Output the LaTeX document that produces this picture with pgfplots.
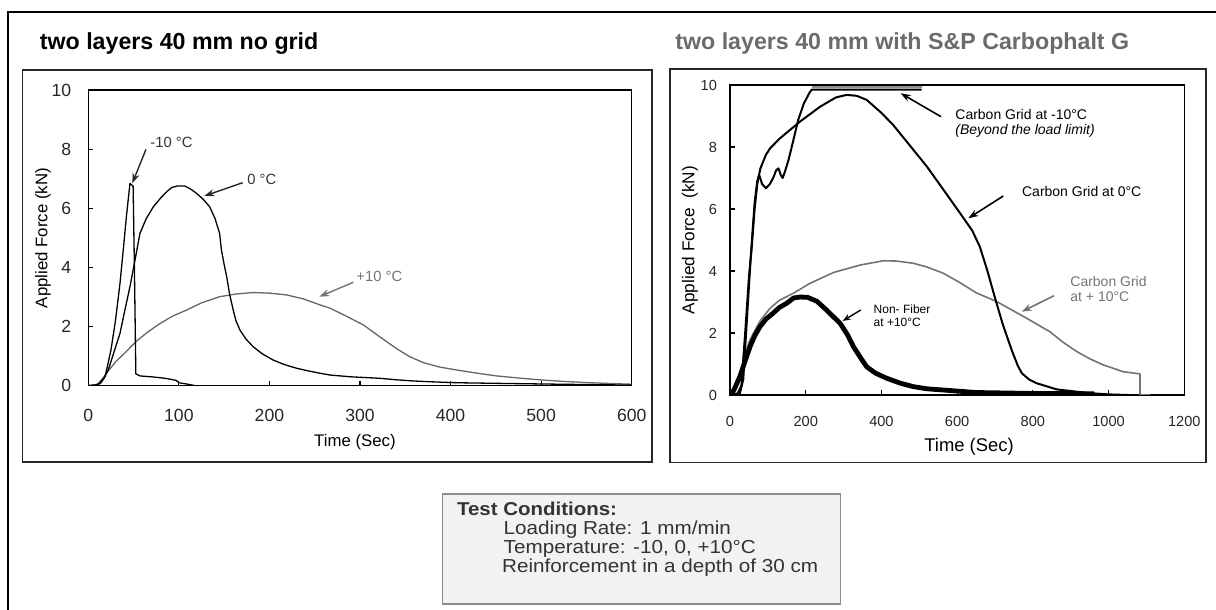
\documentclass[border=0pt]{standalone}
\usepackage{fontspec}
\setmainfont{Liberation Sans}
\newfontfamily\boxfont[FakeStretch=1.1]{Liberation Sans}
\usepackage{pgfplots}
\pgfplotsset{compat=1.18}
\usetikzlibrary{arrows.meta}
\begin{document}
\begin{tikzpicture}
% ---------------- left axis ----------------
\begin{axis}[scale only axis, width=271.7pt, height=147.85pt,
  at={(44.15pt,112.15pt)}, anchor=south west,
  xmin=0, xmax=600, ymin=0, ymax=10,
  xtick={0,100,...,600}, ytick={0,2,...,10},
  tick align=inside, xtick pos=bottom, ytick pos=left,
  major tick length=2.5pt,
  axis line style={line width=0.65pt},
  tick style={line width=0.6pt, black},
  ticklabel style={font=\fontsize{8.8}{10}\selectfont, text=black!85},
  xticklabel style={yshift=-8pt}, yticklabel style={xshift=-5pt},
  /pgf/number format/assume math mode=true, /pgf/number format/1000 sep={}]
\addplot[black!60, line width=0.65pt, line join=round] coordinates {
(0,0)(10,0.05)(16,0.25)(22,0.5)(30,0.8)(40,1.1)(53,1.5)(65,1.8)(79,2.1)(93,2.35)(108.6,2.56)(125,2.8)(145,3.01)(163,3.1)(182,3.15)(200,3.13)(219,3.07)(238,2.93)(256,2.73)(267,2.62)(285,2.35)(304,2.05)(322,1.65)(340,1.26)(355,0.98)(370,0.78)(388,0.63)(407,0.53)(430,0.42)(451,0.33)(475,0.26)(502,0.19)(528,0.14)(554,0.1)(580,0.07)(600,0.05)};
\addplot[black, line width=0.65pt, line join=round] coordinates {
(0,0)(8,0.02)(12.9,0.08)(18,0.3)(22,0.53)(28,1.1)(35,1.77)(40,2.5)(46,3.35)(51.6,4.25)(57,5.15)(64,5.65)(71.8,6.05)(80,6.35)(86.6,6.56)(92,6.7)(97.6,6.75)(106.8,6.75)(113,6.65)(119.7,6.5)(127,6.3)(134,6.05)(140,5.65)(145,5.15)(147,4.59)(150,4.1)(152.8,3.69)(156,3.1)(160,2.56)(163,2.2)(167.5,1.88)(174,1.58)(182,1.32)(192,1.08)(204,0.87)(216,0.72)(230,0.59)(243,0.5)(256,0.42)(267,0.36)(290,0.3)(322,0.25)(340,0.2)(359,0.16)(380,0.13)(407,0.1)(450,0.08)(520,0.05)(600,0.02)};
\addplot[black, line width=0.65pt, line join=round] coordinates {
(0,0)(10,0.02)(14,0.1)(18.5,0.3)(25,1.2)(30,2.2)(35,3.46)(38.6,4.59)(42,5.7)(46,6.84)(49.5,6.75)(51,3.8)(52.5,0.4)(57,0.33)(70,0.3)(85,0.25)(97,0.18)(100,0.1)(110,0.05)(118,0)(125,0)};
\end{axis}

% ---------------- right axis ----------------
\begin{axis}[scale only axis, width=227.15pt, height=155pt,
  at={(365pt,107.5pt)}, anchor=south west,
  xmin=0, xmax=1200, ymin=0, ymax=10,
  xtick={0,200,...,1200}, ytick={0,2,...,10},
  tick align=inside, xtick pos=bottom, ytick pos=left,
  major tick length=2.5pt,
  axis line style={line width=0.65pt},
  tick style={line width=0.6pt, black},
  ticklabel style={font=\fontsize{7.3}{9}\selectfont, text=black!85},
  xticklabel style={yshift=-7pt}, yticklabel style={xshift=-3pt},
  /pgf/number format/assume math mode=true, /pgf/number format/1000 sep={}]
\addplot[black!55, line width=0.8pt, line join=round] coordinates {
(0,0)(10,0.1)(20,0.4)(30,0.8)(40,1.3)(50,1.7)(62,2.0)(80,2.4)(106,2.8)(130,3.05)(167,3.28)(211,3.6)(273,3.95)(343,4.19)(405,4.33)(440,4.32)(484,4.25)(520,4.13)(563,3.93)(608,3.62)(650,3.3)(705,3.01)(780,2.5)(845,2.04)(880,1.7)(916,1.4)(950,1.17)(986,0.97)(1039,0.75)(1083,0.68)(1083,0)(1110,0)};
\addplot[black, line width=2.4pt, line join=round] coordinates {
(0,0)(10,0.15)(26,0.59)(40,1.1)(53,1.56)(65,1.9)(79,2.2)(95,2.45)(114,2.64)(130,2.82)(150,2.96)(168,3.13)(185,3.16)(205,3.15)(230,3.02)(255,2.74)(275,2.5)(291,2.31)(310,1.95)(326,1.56)(345,1.2)(361,0.91)(385,0.7)(414,0.54)(450,0.38)(484,0.27)(520,0.2)(564,0.16)(650,0.08)(800,0.05)(962,0.04)};
\addplot[black, line width=1pt, line join=round] coordinates {
(0,0)(20,0.05)(30,0.3)(40,2.0)(50,3.8)(57,4.7)(65,6.0)(72,6.8)(80,7.3)(95,7.75)(106,7.96)(132,8.28)(185,8.82)(238,9.3)(280,9.6)(308,9.68)(335,9.65)(361,9.52)(400,9.1)(431,8.71)(475,8.05)(520,7.37)(565,6.6)(608,5.86)(640,5.3)(660,4.78)(680,4.0)(700,3.13)(720,2.3)(744,1.45)(760,0.95)(771,0.7)(790,0.5)(810,0.38)(863,0.18)(950,0.06)(1000,0.02)(1050,0)};
\addplot[black, line width=1pt, line join=round] coordinates {
(0,0)(25,0)(35,0.5)(45,2.5)(55,4.5)(65,6.2)(72,6.9)(77,7.1)(85,6.8)(95,6.67)(105,6.8)(114,7.0)(122,7.25)(128,7.31)(134,7.1)(139,7.0)(145,7.2)(155,7.6)(165,8.1)(180,8.87)(195,9.4)(210,9.75)(216,9.85)(506,9.85)};
\addplot[black!45, line width=1pt] coordinates {(216,9.95)(506,9.95)};
\end{axis}

\begin{scope}[x=0.5pt,y=0.5pt]
% outer frame and panel boxes
\draw[line width=0.75pt] (8,0) -- (8,598) -- (1216,598);
\draw[line width=0.65pt, black!85] (22.7,148) rectangle (652,540);
\draw[line width=0.65pt, black!85] (670,147.3) rectangle (1206,541);
% titles
\node[anchor=base west, inner sep=0, font=\bfseries\fontsize{11.6}{14}\selectfont] at (39.5,560) {two layers 40 mm no grid};
\node[anchor=base west, inner sep=0, text=black!58, font=\bfseries\fontsize{11.6}{14}\selectfont] at (675,560) {two layers 40 mm with S\&P Carbophalt G};

% axis labels
\node[font=\fontsize{8.4}{10}\selectfont] at (355,168) {Time (Sec)};
\node[font=\fontsize{8.4}{10}\selectfont, rotate=90] at (43,372) {Applied Force (kN)};
\node[font=\fontsize{9.2}{11}\selectfont] at (969,163) {Time (Sec)};
\node[font=\fontsize{8.6}{10}\selectfont, rotate=90] at (690,370) {Applied Force\ \ (kN)};

% left annotations
\node[anchor=base west, inner sep=0, text=black!80, font=\fontsize{7.4}{9}\selectfont] at (150,462.7) {-10 °C};
\node[anchor=base west, inner sep=0, text=black!80, font=\fontsize{7.4}{9}\selectfont] at (247,425.7) {0 °C};
\node[anchor=base west, inner sep=0, text=black!55, font=\fontsize{7.4}{9}\selectfont] at (356,328) {+10 °C};
\draw[-{Stealth[length=5pt,width=3.5pt]}, line width=0.7pt, black!85] (146,460.7) -- (132.3,426.7);
\draw[-{Stealth[length=5pt,width=3.5pt]}, line width=0.7pt, black!85] (242.7,427.3) -- (204.3,414);
\draw[-{Stealth[length=5pt,width=3.5pt]}, line width=0.7pt, black!55] (353.3,327.7) -- (319.3,313.3);

% right annotations
\node[anchor=base west, inner sep=0, font=\fontsize{7}{9}\selectfont] at (955,490) {Carbon Grid at -10°C};
\node[anchor=base west, inner sep=0, font=\itshape\fontsize{7}{9}\selectfont] at (955,475) {(Beyond the load limit)};
\node[anchor=base west, inner sep=0, font=\fontsize{7}{9}\selectfont] at (1021.7,413.3) {Carbon Grid at 0°C};
\node[anchor=base west, inner sep=0, text=black!55, font=\fontsize{7}{9}\selectfont] at (1070,323.3) {Carbon Grid};
\node[anchor=base west, inner sep=0, text=black!55, font=\fontsize{7}{9}\selectfont] at (1070,308.3) {at + 10°C};
\node[anchor=base west, inner sep=0, font=\fontsize{6}{7}\selectfont] at (873.3,296.4) {Non- Fiber};
\node[anchor=base west, inner sep=0, font=\fontsize{6}{7}\selectfont] at (873.3,283) {at +10°C};
\draw[-{Stealth[length=5pt,width=3.5pt]}, line width=0.8pt] (941,493.3) -- (900.7,516.7);
\draw[-{Stealth[length=5pt,width=3.5pt]}, line width=0.8pt] (1003.3,414) -- (968.3,391.7);
\draw[-{Stealth[length=5pt,width=3.5pt]}, line width=0.8pt, black!55] (1054,314.3) -- (1021.7,298.3);
\draw[-{Stealth[length=4pt,width=3pt]}, line width=0.7pt] (860.7,300) -- (842.7,289);

% test conditions box
\draw[draw=black!45, fill=black!5, line width=0.6pt] (442.7,6) rectangle (840.7,116);
\node[anchor=base west, inner sep=0, text=black!80, font=\boxfont\bfseries\fontsize{9.3}{11}\selectfont] at (456.7,94) {Test Conditions:};
\node[anchor=base west, inner sep=0, text=black!80, font=\boxfont\fontsize{9.4}{11}\selectfont] at (503.3,75) {Loading Rate: 1 mm/min};
\node[anchor=base west, inner sep=0, text=black!80, font=\boxfont\fontsize{9.4}{11}\selectfont] at (503.3,56) {Temperature: -10, 0, +10°C};
\node[anchor=base west, inner sep=0, text=black!80, font=\boxfont\fontsize{9.4}{11}\selectfont] at (501.7,37.5) {Reinforcement in a depth of 30 cm};

\pgfresetboundingbox
\path (0,0) rectangle (1216,610);
\end{scope}
\end{tikzpicture}
\end{document}
